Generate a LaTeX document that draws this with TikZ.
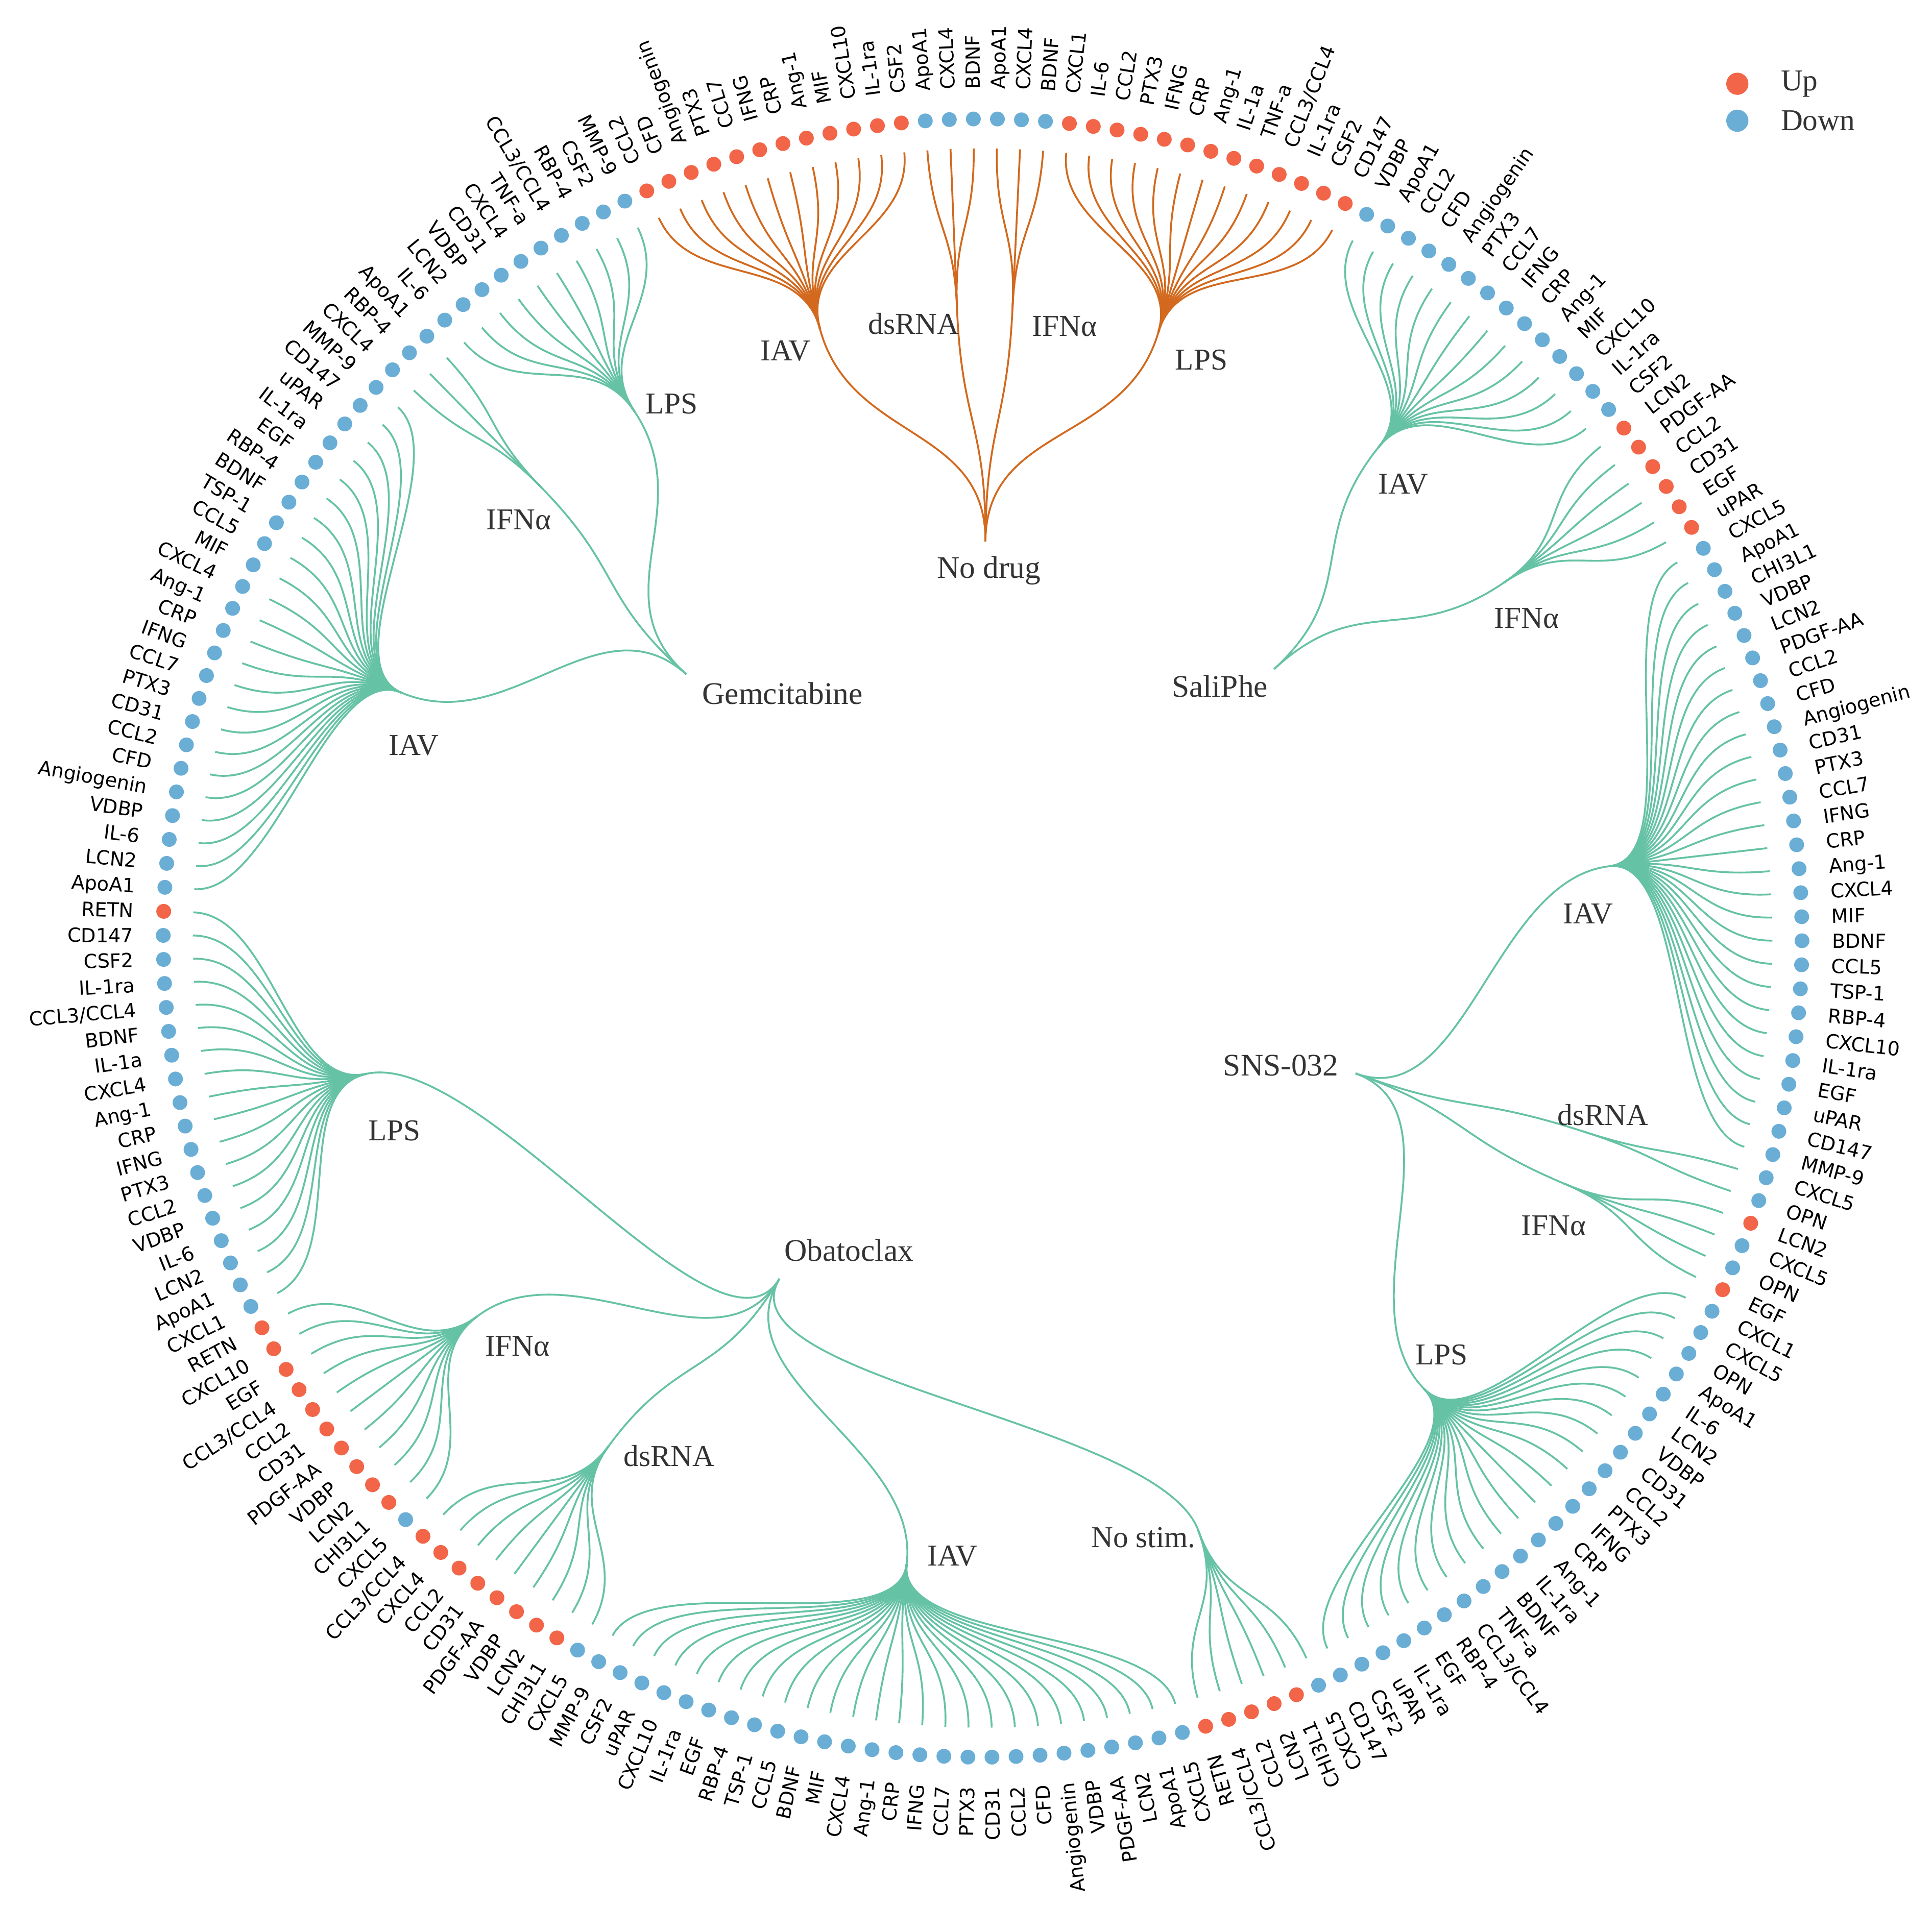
\documentclass[tikz,border=0pt]{standalone}
\usepackage{fontspec}
\setmainfont{Liberation Serif}
\newfontfamily\leaffont{DejaVu Sans}
\usetikzlibrary{calc}
\definecolor{stimgreen}{RGB}{102,194,165}
\definecolor{drugorange}{RGB}{210,105,30}
\definecolor{upred}{RGB}{242,101,72}
\definecolor{downblue}{RGB}{106,174,214}
\definecolor{labelgrey}{RGB}{51,51,51}

% angle of the first leaf and angular step between leaves (214 leaves)
\newcommand\leafzero{114.2}
\newcommand\leafstep{1.6822}

% fan of leaves under one hub: #1 hub, #2 edge style, #3 first index, #4 label/dir list
\newcommand\leafset[4]{%
  \foreach \leaflab/\leafdir [count=\leafno from #3] in {#4} {
    \pgfmathsetmacro\leafang{\leafzero-\leafno*\leafstep}
    \coordinate (end\leafno) at (\leafang:12.82);
    \draw[#2] let \p1=(#1), \n1={atan2(\y1,\x1)} in
      (#1) .. controls (\n1:11.53) and (\leafang:11.53) .. (end\leafno);
    \node[\leafdir\space dot] (dot\leafno) at (\leafang:13.3) {};
    \ifnum\leafno<107
      \node[leaf, anchor=west, rotate=\leafang] (lab\leafno) at (\leafang:13.78) {\leaflab};
    \else
      \node[leaf, anchor=east, rotate=\leafang+180] (lab\leafno) at (\leafang:13.78) {\leaflab};
    \fi
  }%
}

% drug -> stimulus branch: #1 style, #2 drug, #3 stimulus hub
\newcommand\branch[3]{%
  \draw[#1] let \p1=(#2), \p2=(#3), \n1={atan2(\y1,\x1)}, \n2={atan2(\y2,\x2)} in
    (#2) .. controls (\n1:8.34) and (\n2:8.34) .. (#3);%
}

\begin{document}
\begin{tikzpicture}[
  every node/.style = {inner sep=0pt},
  % leaf styles
  up dot/.style   = {circle, fill=upred, minimum size=0.24cm},
  down dot/.style = {circle, fill=downblue, minimum size=0.24cm},
  leaf/.style     = {font=\leaffont\fontsize{9}{10}\selectfont, text height=6.6pt, text depth=0pt},
  % label styles
  drug/.style     = {font=\fontsize{14.5}{16}\selectfont, text=labelgrey},
  stim/.style     = {font=\fontsize{14}{16}\selectfont, text=labelgrey},
  % edge styles
  green edge/.style  = {draw=stimgreen, line width=0.85pt},
  orange edge/.style = {draw=drugorange, line width=0.85pt},
]

\fill[white] (-15.95,-15.73) rectangle (15.41,15.23);
\useasboundingbox (-15.95,-15.73) rectangle (15.41,15.23);

%% Drug nodes (inner ring)
\coordinate (noDrug)  at ({\leafzero-14.625*\leafstep}:6.44);
\coordinate (saliPhe) at ({\leafzero-42.5*\leafstep}:6.44);
\coordinate (sns)     at ({\leafzero-79.75*\leafstep}:6.44);
\coordinate (obato)   at ({\leafzero-139.7*\leafstep}:6.44);
\coordinate (gemci)   at ({\leafzero-199.6667*\leafstep}:6.44);

%% Stimulus hubs (middle ring)
\coordinate (ndIAV) at ({\leafzero-5.5*\leafstep}:10.24);
\coordinate (ndDS)  at ({\leafzero-13*\leafstep}:10.24);
\coordinate (ndIFN) at ({\leafzero-16*\leafstep}:10.24);
\coordinate (ndLPS) at ({\leafzero-24*\leafstep}:10.24);
\coordinate (spIAV) at ({\leafzero-37.5*\leafstep}:10.24);
\coordinate (spIFN) at ({\leafzero-47.5*\leafstep}:10.24);
\coordinate (snIAV) at ({\leafzero-64*\leafstep}:10.24);
\coordinate (snDS)  at ({\leafzero-78.5*\leafstep}:10.24);
\coordinate (snIFN) at ({\leafzero-81.5*\leafstep}:10.24);
\coordinate (snLPS) at ({\leafzero-95*\leafstep}:10.24);
\coordinate (obNS)  at ({\leafzero-109.5*\leafstep}:10.24);
\coordinate (obIAV) at ({\leafzero-125.5*\leafstep}:10.24);
\coordinate (obDS)  at ({\leafzero-143*\leafstep}:10.24);
\coordinate (obIFN) at ({\leafzero-153*\leafstep}:10.24);
\coordinate (obLPS) at ({\leafzero-167.5*\leafstep}:10.24);
\coordinate (gmIAV) at ({\leafzero-188.5*\leafstep}:10.24);
\coordinate (gmIFN) at ({\leafzero-202*\leafstep}:10.24);
\coordinate (gmLPS) at ({\leafzero-208.5*\leafstep}:10.24);

%% Drug -> stimulus branches
\branch{orange edge}{noDrug}{ndIAV}
\branch{orange edge}{noDrug}{ndDS}
\branch{orange edge}{noDrug}{ndIFN}
\branch{orange edge}{noDrug}{ndLPS}
\branch{green edge}{saliPhe}{spIAV}
\branch{green edge}{saliPhe}{spIFN}
\branch{green edge}{sns}{snIAV}
\branch{green edge}{sns}{snDS}
\branch{green edge}{sns}{snIFN}
\branch{green edge}{sns}{snLPS}
\branch{green edge}{obato}{obNS}
\branch{green edge}{obato}{obIAV}
\branch{green edge}{obato}{obDS}
\branch{green edge}{obato}{obIFN}
\branch{green edge}{obato}{obLPS}
\branch{green edge}{gemci}{gmIAV}
\branch{green edge}{gemci}{gmIFN}
\branch{green edge}{gemci}{gmLPS}

%% Leaves: No drug
\leafset{ndIAV}{orange edge}{0}{CCL2/up,CFD/up,Angiogenin/up,PTX3/up,CCL7/up,IFNG/up,CRP/up,
  Ang-1/up,MIF/up,CXCL10/up,IL-1ra/up,CSF2/up}
\leafset{ndDS}{orange edge}{12}{ApoA1/down,CXCL4/down,BDNF/down}
\leafset{ndIFN}{orange edge}{15}{ApoA1/down,CXCL4/down,BDNF/down}
\leafset{ndLPS}{orange edge}{18}{CXCL1/up,IL-6/up,CCL2/up,PTX3/up,IFNG/up,CRP/up,Ang-1/up,
  IL-1a/up,TNF-a/up,{CCL3/CCL4}/up,IL-1ra/up,CSF2/up,CD147/up}

%% Leaves: SaliPhe
\leafset{spIAV}{green edge}{31}{VDBP/down,ApoA1/down,CCL2/down,CFD/down,Angiogenin/down,
  PTX3/down,CCL7/down,IFNG/down,CRP/down,Ang-1/down,MIF/down,CXCL10/down,IL-1ra/down,CSF2/down}
\leafset{spIFN}{green edge}{45}{LCN2/up,PDGF-AA/up,CCL2/up,CD31/up,EGF/up,uPAR/up}

%% Leaves: SNS-032
\leafset{snIAV}{green edge}{51}{CXCL5/down,ApoA1/down,CHI3L1/down,VDBP/down,LCN2/down,
  PDGF-AA/down,CCL2/down,CFD/down,Angiogenin/down,CD31/down,PTX3/down,CCL7/down,IFNG/down,
  CRP/down,Ang-1/down,CXCL4/down,MIF/down,BDNF/down,CCL5/down,TSP-1/down,RBP-4/down,
  CXCL10/down,IL-1ra/down,EGF/down,uPAR/down,CD147/down,MMP-9/down}
\leafset{snDS}{green edge}{78}{CXCL5/down,OPN/down}
\leafset{snIFN}{green edge}{80}{LCN2/up,CXCL5/down,OPN/down,EGF/up}
\leafset{snLPS}{green edge}{84}{CXCL1/down,CXCL5/down,OPN/down,ApoA1/down,IL-6/down,
  LCN2/down,VDBP/down,CD31/down,CCL2/down,PTX3/down,IFNG/down,CRP/down,Ang-1/down,
  IL-1ra/down,BDNF/down,TNF-a/down,{CCL3/CCL4}/down,RBP-4/down,EGF/down,IL-1ra/down,
  uPAR/down,CSF2/down,CD147/down}

%% Leaves: Obatoclax
\leafset{obNS}{green edge}{107}{CXCL5/down,CHI3L1/up,LCN2/up,CCL2/up,{CCL3/CCL4}/up,RETN/up}
\leafset{obIAV}{green edge}{113}{CXCL5/down,ApoA1/down,LCN2/down,PDGF-AA/down,VDBP/down,
  Angiogenin/down,CFD/down,CCL2/down,CD31/down,PTX3/down,CCL7/down,IFNG/down,CRP/down,
  Ang-1/down,CXCL4/down,MIF/down,BDNF/down,CCL5/down,TSP-1/down,RBP-4/down,EGF/down,
  IL-1ra/down,CXCL10/down,uPAR/down,CSF2/down,MMP-9/down}
\leafset{obDS}{green edge}{139}{CXCL5/down,CHI3L1/up,LCN2/up,VDBP/up,PDGF-AA/up,CD31/up,
  CCL2/up,CXCL4/up,{CCL3/CCL4}/up}
\leafset{obIFN}{green edge}{148}{CXCL5/down,CHI3L1/up,LCN2/up,VDBP/up,PDGF-AA/up,CD31/up,
  CCL2/up,{CCL3/CCL4}/up,EGF/up,CXCL10/up,RETN/up}
\leafset{obLPS}{green edge}{159}{CXCL1/down,ApoA1/down,LCN2/down,IL-6/down,VDBP/down,
  CCL2/down,PTX3/down,IFNG/down,CRP/down,Ang-1/down,CXCL4/down,IL-1a/down,BDNF/down,
  {CCL3/CCL4}/down,IL-1ra/down,CSF2/down,CD147/down,RETN/up}

%% Leaves: Gemcitabine
\leafset{gmIAV}{green edge}{177}{ApoA1/down,LCN2/down,IL-6/down,VDBP/down,Angiogenin/down,
  CFD/down,CCL2/down,CD31/down,PTX3/down,CCL7/down,IFNG/down,CRP/down,Ang-1/down,
  CXCL4/down,MIF/down,CCL5/down,TSP-1/down,BDNF/down,RBP-4/down,EGF/down,IL-1ra/down,
  uPAR/down,CD147/down,MMP-9/down}
\leafset{gmIFN}{green edge}{201}{CXCL4/down,RBP-4/down,ApoA1/down}
\leafset{gmLPS}{green edge}{204}{IL-6/down,LCN2/down,VDBP/down,CD31/down,CXCL4/down,
  TNF-a/down,{CCL3/CCL4}/down,RBP-4/down,CSF2/down,MMP-9/down}

%% Drug labels
\node[drug] (noDrugLab)  at (0.10,5.97)  {No drug};
\node[drug] (saliPheLab) at (3.85,4.09)  {SaliPhe};
\node[drug] (snsLab)     at (4.84,-2.07) {SNS-032};
\node[drug] (obatoLab)   at (-2.17,-5.07) {Obatoclax};
\node[drug] (gemciLab)   at (-3.25,3.97) {Gemcitabine};

%% Stimulus labels
\node[stim] (ndIAVLab) at (-3.20,9.53)  {IAV};
\node[stim] (ndDSLab)  at (-1.12,9.97)  {dsRNA};
\node[stim] (ndIFNLab) at (1.33,9.93)   {IFNα};
\node[stim] (ndLPSLab) at (3.55,9.39)   {LPS};
\node[stim] (spIAVLab) at (6.83,7.37)   {IAV};
\node[stim] (spIFNLab) at (8.83,5.19)   {IFNα};
\node[stim] (snIAVLab) at (9.83,0.39)   {IAV};
\node[stim] (snDSLab)  at (10.07,-2.87) {dsRNA};
\node[stim] (snIFNLab) at (9.27,-4.67)  {IFNα};
\node[stim] (snLPSLab) at (7.45,-6.77)  {LPS};
\node[stim] (obNSLab)  at (2.61,-9.73)  {No stim.};
\node[stim] (obIAVLab) at (-0.49,-10.03) {IAV};
\node[stim] (obDSLab)  at (-5.09,-8.41) {dsRNA};
\node[stim] (obIFNLab) at (-7.55,-6.63) {IFNα};
\node[stim] (obLPSLab) at (-9.55,-3.13) {LPS};
\node[stim] (gmIAVLab) at (-9.23,3.13)  {IAV};
\node[stim] (gmIFNLab) at (-7.53,6.79)  {IFNα};
\node[stim] (gmLPSLab) at (-5.05,8.67)  {LPS};

%% Legend
\node[up dot, minimum size=0.36cm]   (upKey)   at (12.25,13.87) {};
\node[stim, anchor=west]             (upText)  at (12.95,13.87) {Up};
\node[down dot, minimum size=0.36cm] (downKey) at (12.25,13.27) {};
\node[stim, anchor=west]             (downText) at (12.95,13.27) {Down};

\end{tikzpicture}
\end{document}
